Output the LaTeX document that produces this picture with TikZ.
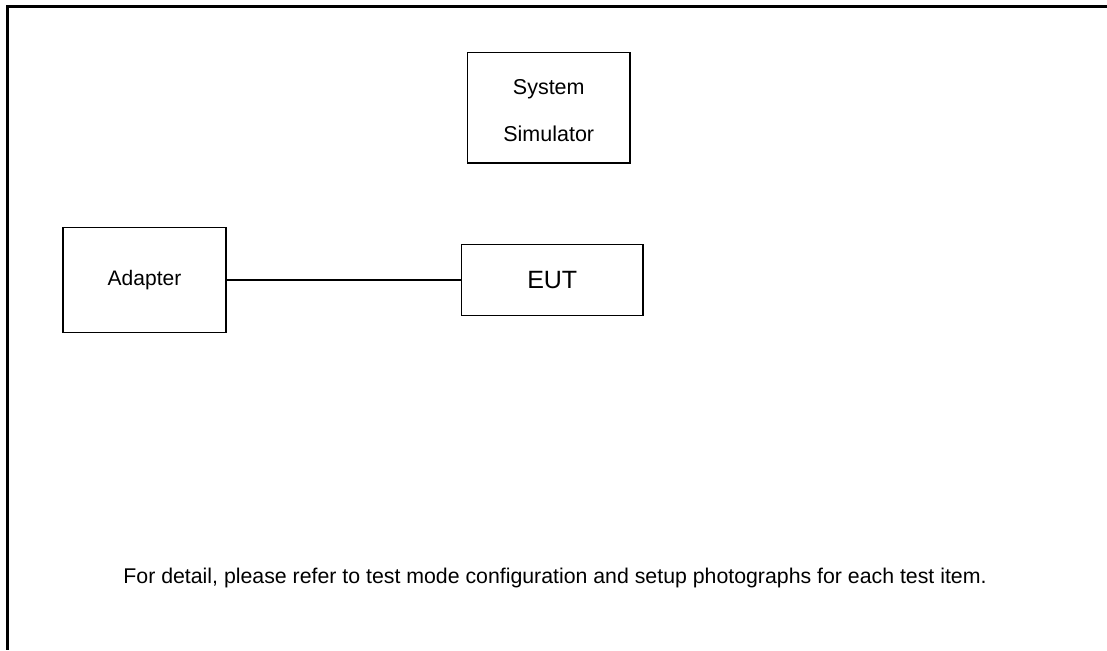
\documentclass[tikz,border=0pt]{standalone}
\usepackage{fontspec}
\setmainfont{Liberation Sans}
\begin{document}
\begin{tikzpicture}[x=1pt,y=-1pt,
  frame/.style={line width=3pt,line join=miter},
  box/.style={draw,line width=1.4pt,inner sep=0pt,anchor=center},
  lbl/.style={inner sep=0pt,anchor=center},
  link/.style={line width=1.4pt}]
\useasboundingbox (0,0) rectangle (1107,650);
\draw[frame] (1107,6.5) -- (7,6.5) -- (7,650);
\node[box,minimum width=162.5pt,minimum height=110.5pt] (sim) at (548.75,107.75) {};
\node[lbl,align=center,font=\fontsize{21.5}{47}\selectfont] (simtext) at (548.75,111) {System\\Simulator};
\node[box,minimum width=163pt,minimum height=105pt] (adapter) at (144.5,280) {};
\node[lbl,font=\fontsize{21}{24}\selectfont] (adaptertext) at (adapter.center) {Adapter};
\node[box,minimum width=181.5pt,minimum height=71pt,font=\fontsize{25}{28}\selectfont] (eut) at (552.25,280) {EUT};
\draw[link] (adapter.east) -- (eut.west);
\node[lbl,font=\fontsize{21.3}{24}\selectfont] (note) at (555,578) {For detail, please refer to test mode configuration and setup photographs for each test item.};
\end{tikzpicture}
\end{document}
